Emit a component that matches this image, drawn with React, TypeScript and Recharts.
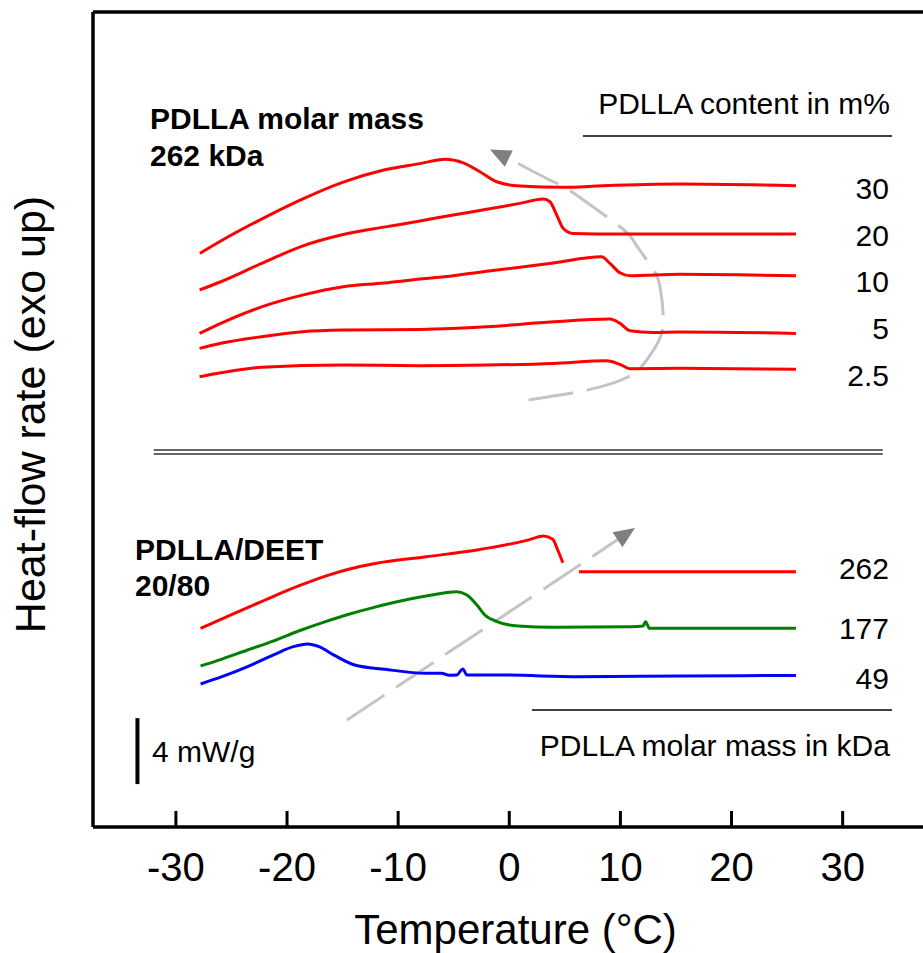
import React from "react";
import { LineChart, Line, XAxis, YAxis, ReferenceLine, ReferenceDot } from "recharts";

const FONT = '"Liberation Sans", Arial, Helvetica, sans-serif';

// temperature in °C, heat-flow rate in mW/g (curves stacked with offsets, exo up)
const t30 = [-27.84, -25.96, -22.29, -18.62, -14.94, -11.28, -8.04, -5.79, -4.14, -2.64, -1.13, 0.96, 4.86, 8.46, 15.36, 25.8];
const q30 = [34.77, 35.52, 36.85, 38.06, 39.09, 39.82, 40.21, 40.47, 40.26, 39.72, 39.11, 38.85, 38.77, 38.87, 38.97, 38.87];

const t20 = [-27.87, -25.96, -22.29, -18.62, -14.94, -11.28, -8.04, -5.04, -2.03, 0.96, 3.06, 3.66, 4.27, 4.86, 5.76, 9.96, 15.36, 25.8];
const q20 = [32.55, 33.05, 34.16, 35.21, 35.91, 36.36, 36.73, 37.1, 37.44, 37.8, 38.06, 37.9, 37.09, 36.28, 35.98, 35.94, 35.94, 35.94];

const t10 = [-27.87, -25.96, -22.29, -18.62, -14.94, -11.28, -8.04, -5.04, -2.03, 0.96, 3.96, 8.31, 9.06, 9.96, 10.86, 15.36, 25.8];
const q10 = [29.92, 30.53, 31.53, 32.24, 32.75, 32.97, 33.21, 33.42, 33.68, 33.93, 34.19, 34.56, 34.16, 33.59, 33.41, 33.5, 33.41];

const t5 = [-27.87, -25.96, -22.29, -18.62, -14.94, -8.04, -2.03, 3.96, 9.06, 9.96, 10.86, 12.96, 15.36, 25.8];
const q5 = [29.01, 29.32, 29.72, 30.02, 30.12, 30.16, 30.32, 30.62, 30.79, 30.53, 30.08, 29.98, 30.0, 29.92];

const t2_5 = [-27.87, -25.96, -22.29, -14.94, -8.04, -2.03, 3.96, 8.76, 9.96, 10.86, 15.36, 25.8];
const q2_5 = [27.29, 27.53, 27.86, 28.0, 27.96, 28.0, 28.1, 28.26, 28.04, 27.78, 27.8, 27.74];

const t262 = [-27.78, -25.85, -23.55, -21.26, -18.96, -16.67, -14.37, -12.08, -7.5, -2.91, 1.68, 3.08, 3.91, 4.36, 4.82, 5.5, 6.27, 10.86, 15.45, 25.8];
const q262 = [12.04, 12.61, 13.3, 13.97, 14.61, 15.18, 15.64, 15.97, 16.38, 16.79, 17.39, 17.64, 17.44, 16.79, 16.02, null, 15.47, 15.47, 15.47, 15.47];

const t177 = [-27.78, -25.85, -23.55, -21.26, -18.96, -16.67, -14.37, -12.08, -9.78, -7.5, -4.73, -3.81, -2.91, -2.2, -1.05, 0.78, 4.0, 10.86, 12.03, 12.26, 12.62, 15.45, 25.8];
const q177 = [9.76, 10.18, 10.73, 11.27, 11.88, 12.42, 12.91, 13.33, 13.7, 14.0, 14.26, 14.06, 13.45, 12.85, 12.44, 12.18, 12.1, 12.14, 12.18, 12.44, 12.04, 12.04, 12.04];

const t49 = [-27.78, -25.85, -23.55, -21.26, -19.42, -18.13, -17.12, -15.77, -13.91, -11.19, -7.5, -6.11, -5.4, -4.73, -4.18, -3.81, -0.6, 6.27, 15.45, 25.8];
const q49 = [8.67, 9.11, 9.72, 10.42, 10.93, 11.09, 10.93, 10.42, 9.82, 9.56, 9.32, 9.32, 9.2, 9.21, 9.58, 9.21, 9.21, 9.11, 9.15, 9.19];

// guide arrows (same units)
const arcT = [1.74, 6.96, 10.71, 12.36, 13.41, 13.86, 13.56, 12.81, 11.31, 9.96, 5.61, 3.96, -0.09];
const arcQ = [25.88, 26.48, 27.29, 28.3, 29.41, 30.73, 32.75, 33.96, 35.38, 36.38, 38.5, 39.11, 40.53];
const arcTip = { t: -1.74, q: 41.07 };
const diagT = [-14.6, 9.82];
const diagQ = [6.48, 17.45];
const diagTip = { t: 11.31, q: 18.12 };

const tempTicks = [-30, -20, -10, 0, 10, 20, 30];

const zip = (t: number[], q: (number | null)[]) => t.map((x, i) => ({ t: x, q: q[i] }));

const curves = [
  { key: "30", color: "#ff0000", data: zip(t30, q30) },
  { key: "20", color: "#ff0000", data: zip(t20, q20) },
  { key: "10", color: "#ff0000", data: zip(t10, q10) },
  { key: "5", color: "#ff0000", data: zip(t5, q5) },
  { key: "2.5", color: "#ff0000", data: zip(t2_5, q2_5) },
  { key: "262", color: "#ff0000", data: zip(t262, q262) },
  { key: "177", color: "#008000", data: zip(t177, q177) },
  { key: "49", color: "#0000ff", data: zip(t49, q49) },
];

// text annotations: position in data units, baseline
const notes = [
  { t: -32.33, q: 42.3, text: "PDLLA molar mass", anchor: "start", bold: true },
  { t: -32.33, q: 40.06, text: "262 kDa", anchor: "start", bold: true },
  { t: 34.26, q: 43.21, text: "PDLLA content in m%", anchor: "end", bold: false },
  { t: -33.68, q: 16.18, text: "PDLLA/DEET", anchor: "start", bold: true },
  { t: -33.68, q: 14.0, text: "20/80", anchor: "start", bold: true },
  { t: -32.15, q: 3.94, text: "4 mW/g", anchor: "start", bold: false },
  { t: 34.26, q: 4.3, text: "PDLLA molar mass in kDa", anchor: "end", bold: false },
  { t: 34.17, q: 38.08, text: "30", anchor: "end", bold: false },
  { t: 34.17, q: 35.23, text: "20", anchor: "end", bold: false },
  { t: 34.17, q: 32.44, text: "10", anchor: "end", bold: false },
  { t: 34.17, q: 29.59, text: "5", anchor: "end", bold: false },
  { t: 34.17, q: 26.74, text: "2.5", anchor: "end", bold: false },
  { t: 34.17, q: 15.05, text: "262", anchor: "end", bold: false },
  { t: 34.17, q: 11.41, text: "177", anchor: "end", bold: false },
  { t: 34.17, q: 8.38, text: "49", anchor: "end", bold: false },
];

function TempTick({ x, y, payload }: any) {
  return (
    <g>
      <line x1={x} x2={x} y1={y} y2={y - 16} stroke="#000" strokeWidth={3} />
      <text x={x} y={y + 54} textAnchor="middle" fontSize={40} fontFamily={FONT} fill="#000">
        {payload.value}
      </text>
    </g>
  );
}

function XTitle({ viewBox }: any) {
  const cx = viewBox.x + viewBox.width / 2 + 6;
  return (
    <text x={cx} y={944} textAnchor="middle" fontSize={42} fontFamily={FONT} fill="#000">
      Temperature (°C)
    </text>
  );
}

function YTitle({ viewBox }: any) {
  const cx = viewBox.x + 45;
  const cy = viewBox.y + viewBox.height / 2 - 5;
  return (
    <text
      x={cx}
      y={cy}
      transform={`rotate(-90 ${cx} ${cy})`}
      textAnchor="middle"
      fontSize={43}
      fontFamily={FONT}
      fill="#000"
    >
      Heat-flow rate (exo up)
    </text>
  );
}

const arrowHead = (angle: number) => (p: any) => (
  <polygon
    points="0,0 -21,-9 -21,9"
    fill="#7f7f7f"
    transform={`translate(${p.cx} ${p.cy}) rotate(${angle})`}
  />
);

export default function App() {
  return (
    <div style={{ position: "absolute", left: 0, top: 0, width: 923, height: 953, overflow: "hidden", background: "#fff" }}>
      <LineChart width={930} height={953} margin={{ top: 12, right: 4, left: 0, bottom: 0 }}>
        <XAxis
          type="number"
          dataKey="t"
          domain={[-37.46, 37.5]}
          ticks={tempTicks}
          interval={0}
          allowDataOverflow
          tick={<TempTick />}
          tickLine={false}
          tickSize={0}
          tickMargin={0}
          axisLine={{ stroke: "#000", strokeWidth: 3.5 }}
          height={126}
          label={{ content: XTitle }}
        />
        <YAxis
          type="number"
          domain={[0, 49.4]}
          allowDataOverflow
          width={93}
          tick={false}
          tickLine={false}
          axisLine={{ stroke: "#000", strokeWidth: 3.5 }}
          label={{ content: YTitle }}
        />
        <ReferenceLine y={49.4} stroke="#000" strokeWidth={3.5} />

        {/* separators and header rules */}
        <ReferenceLine segment={[{ x: -32.0, y: 22.85 }, { x: 33.61, y: 22.85 }]} stroke="#333" strokeWidth={1.6} />
        <ReferenceLine segment={[{ x: -32.0, y: 22.61 }, { x: 33.61, y: 22.61 }]} stroke="#333" strokeWidth={1.6} />
        <ReferenceLine segment={[{ x: 6.63, y: 41.88 }, { x: 34.44, y: 41.88 }]} stroke="#000" strokeWidth={1.5} />
        <ReferenceLine segment={[{ x: 2.04, y: 7.09 }, { x: 34.44, y: 7.09 }]} stroke="#000" strokeWidth={1.5} />
        {/* 4 mW/g scale bar */}
        <ReferenceLine segment={[{ x: -33.46, y: 2.6 }, { x: -33.46, y: 6.6 }]} stroke="#000" strokeWidth={4} />

        {/* guide arrows */}
        <Line
          data={zip(arcT, arcQ)}
          dataKey="q"
          type="natural"
          stroke="#c4c4c4"
          strokeWidth={3}
          strokeDasharray="45 14"
          dot={false}
          isAnimationActive={false}
        />
        <Line
          data={zip(diagT, diagQ)}
          dataKey="q"
          type="linear"
          stroke="#c4c4c4"
          strokeWidth={3}
          strokeDasharray="45 14"
          dot={false}
          isAnimationActive={false}
        />
        <ReferenceDot x={arcTip.t} y={arcTip.q} r={0} shape={arrowHead(-153.8)} />
        <ReferenceDot x={diagTip.t} y={diagTip.q} r={0} shape={arrowHead(-33.7)} />

        {curves.map((c) => (
          <Line
            key={c.key}
            data={c.data}
            dataKey="q"
            type="monotone"
            stroke={c.color}
            strokeWidth={3}
            dot={false}
            connectNulls={false}
            isAnimationActive={false}
          />
        ))}

        {notes.map((n) => (
          <ReferenceDot
            key={n.text}
            x={n.t}
            y={n.q}
            r={0}
            ifOverflow="visible"
            shape={(p: any) => (
              <text
                x={p.cx}
                y={p.cy}
                textAnchor={n.anchor}
                fontSize={30}
                fontWeight={n.bold ? "bold" : "normal"}
                fontFamily={FONT}
                fill="#000"
              >
                {n.text}
              </text>
            )}
          />
        ))}
      </LineChart>
    </div>
  );
}
